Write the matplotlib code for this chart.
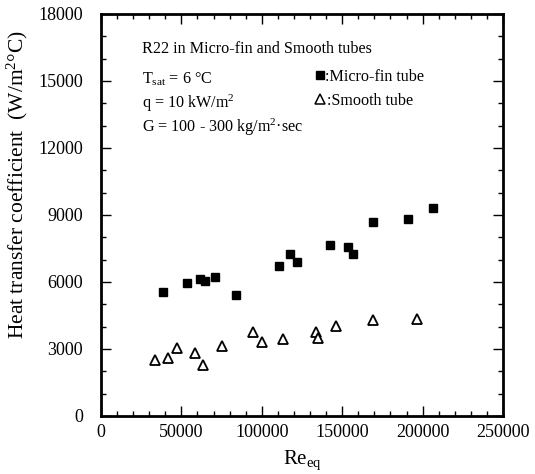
import matplotlib
matplotlib.use("Agg")
import matplotlib.pyplot as plt
from matplotlib.ticker import MultipleLocator

plt.rcParams['font.family'] = ['Liberation Serif', 'DejaVu Serif']
plt.rcParams['mathtext.fontset'] = 'custom'
plt.rcParams['mathtext.rm'] = 'Liberation Serif'
plt.rcParams['mathtext.it'] = 'Liberation Serif:italic'
plt.rcParams['mathtext.bf'] = 'Liberation Serif:bold'

microfin_re = [38700, 53300, 61600, 64700, 70900, 83800, 110900, 117700, 121900,
               142600, 153400, 156500, 169200, 190900, 206500]
microfin_h = [5566, 5942, 6121, 6059, 6211, 5418, 6731, 7254, 6883,
              7657, 7581, 7241, 8687, 8822, 9314]
smooth_re = [33600, 41900, 47500, 58500, 63600, 75400, 94300, 100100, 113000,
             133700, 135100, 146000, 169300, 196700]
smooth_h = [2508, 2611, 3058, 2808, 2284, 3148, 3748, 3327, 3462,
            3775, 3480, 4044, 4299, 4330]
x_ticks = [0, 50000, 100000, 150000, 200000, 250000]
y_ticks = [0, 3000, 6000, 9000, 12000, 15000, 18000]

fig = plt.figure(figsize=(5.35, 4.74), dpi=100)
ax = fig.add_axes([0.1888, 0.1224, 0.7514, 0.8481])

ax.plot(microfin_re, microfin_h, 's', color='black', markersize=5.5, linestyle='none')
ax.plot(smooth_re, smooth_h, '^', markerfacecolor='white', markeredgecolor='black',
        markeredgewidth=1.3, markersize=6.5, linestyle='none')

ax.set_xlim(0, 250000)
ax.set_ylim(0, 18000)
ax.set_xticks(x_ticks)
ax.set_yticks(y_ticks)
ax.xaxis.set_minor_locator(MultipleLocator(10000))
ax.yaxis.set_minor_locator(MultipleLocator(1000))
ax.tick_params(which='both', direction='in', top=True, right=True, labelsize=13, width=1)
ax.tick_params(which='major', length=7)
ax.tick_params(which='minor', length=3.5)
ax.tick_params(axis='x', pad=6)
ax.tick_params(axis='y', pad=13)
for s in ax.spines.values():
    s.set_linewidth(2)

ax.set_xlabel(r'Re$_{\mathrm{eq}}$', fontsize=15, labelpad=5)
ax.set_ylabel(r'Heat transfer coefficient  (W/m$^{2}$°C)', fontsize=15.5)
ax.yaxis.set_label_coords(-0.177, 0.577)

fs = 11.6
x0 = 25500
ax.text(x0, 16255, 'R22 in Micro-fin and Smooth tubes', fontsize=fs, va='baseline')
ax.text(x0, 14867, r'T$_{\mathrm{sat}}$ = 6 °C', fontsize=fs, va='baseline')
ax.text(x0, 13792, r'q = 10 kW/m$^{2}$', fontsize=fs, va='baseline')
ax.text(x0, 12718, r'G = 100 - 300 kg/m$^{2}$·sec', fontsize=fs, va='baseline')

ax.plot([136200], [15270], 's', color='black', markersize=5.5)
ax.text(139500, 15000, ':Micro-fin tube', fontsize=fs, va='baseline')
ax.plot([136200], [14180], '^', markerfacecolor='white', markeredgecolor='black',
        markeredgewidth=1.1, markersize=6.5)
ax.text(140500, 13920, ':Smooth tube', fontsize=fs, va='baseline')

fig.savefig('out.png', dpi=100)
